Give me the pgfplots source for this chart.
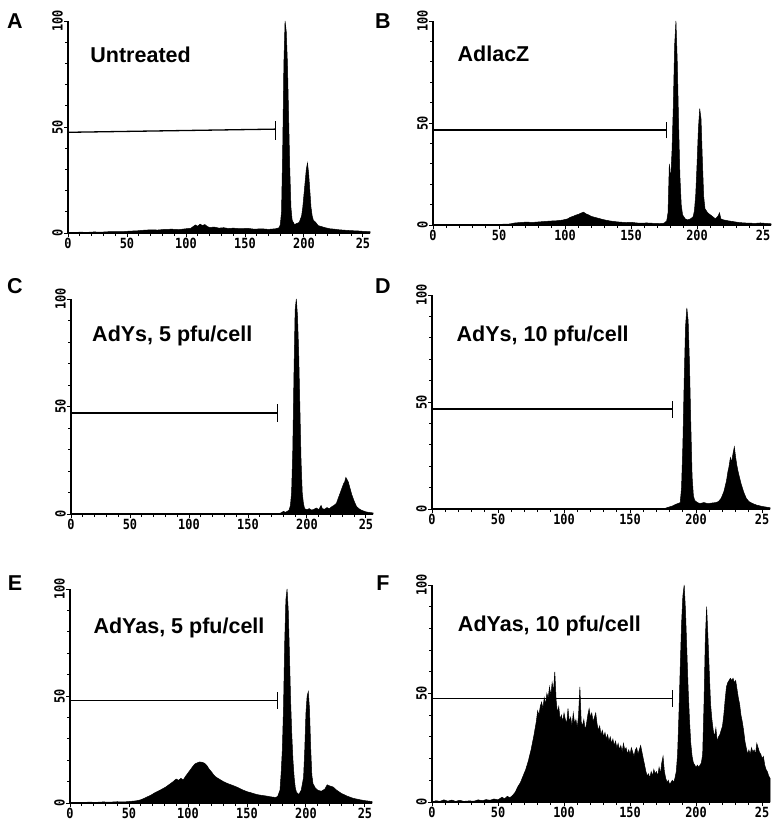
\documentclass[border=0pt]{standalone}
\usepackage{fontspec}
\setmainfont{Liberation Sans}
\newfontfamily\tickfont{DejaVu Sans Mono}[FakeStretch=0.85]
\usepackage{pgfplots}
\pgfplotsset{compat=1.18}

\newcommand\tickfnt{\tickfont\bfseries\fontsize{14}{14}\selectfont}
\newcommand\lblfnt{\bfseries\fontsize{21.5}{22}\selectfont}

\pgfplotsset{
  FC/.style={
    scale only axis, anchor=south west,
    xmin=0, xmax=256, ymin=0, ymax=100,
    axis lines*=left, axis line style={line width=1.2pt},
    clip=false,
    xtick={0,50,100,150,200,250}, xticklabels={0,50,100,150,200,25},
    minor x tick num=4,
    ytick={0,50,100}, yticklabels={0,50,100}, minor y tick num=4,
    tick align=outside, major tick length=4pt, minor tick length=3pt,
    tick style={black, line width=0.9pt},
    ticklabel style={font=\tickfnt, inner sep=1pt},
    yticklabel style={rotate=90, anchor=south},
    xticklabel style={anchor=north},
  },
  H/.style={fill=black, draw=black, line width=0.5pt},
  G/.style={black, line width=1.3pt},
}

\begin{document}
\begin{tikzpicture}
\useasboundingbox (0,0) rectangle (773pt,-827pt);

% ---------- A: Untreated
\begin{axis}[FC, at={(68pt,-233pt)}, width=302pt, height=212pt]
\addplot[H] coordinates {
(0,0)(2,0.3)(6,0.2)(10,0.4)(16,0.3)(22,0.5)(28,0.4)(34,0.6)(40,0.7)(46,0.6)
(52,0.9)(58,1.0)(64,1.3)(70,1.5)(76,1.4)(82,1.7)(88,1.8)(94,1.6)(100,2.0)
(104,2.2)(106,3.0)(108,3.8)(110,3.2)(112,4.2)(114,3.5)(116,4.0)(118,3.1)
(120,2.6)(124,2.8)(128,2.3)(132,2.5)(136,2.1)(140,2.3)(146,2.0)(152,2.2)
(158,1.8)(164,2.0)(170,1.7)(176,2.0)(179,2.5)(180,4)(181,10)(182,40)(183,80)
(184,100)(185,95)(186,80)(187,55)(188,30)(189,12)(190,6)(192,4)(194,4.5)
(196,5)(198,8)(199,12)(200,18)(201,24)(202,30)(203,33)(204,28)(205,20)
(206,12)(207,8)(208,6)(210,5)(212,3.5)(215,3)(218,2.5)(222,2)(226,1.8)
(230,1.5)(235,1.3)(240,1.1)(245,1.0)(250,0.8)(256,0.6)} \closedcycle;
\addplot[G] coordinates {(0,47.5)(176,49)};
\addplot[G] coordinates {(176,44)(176,53)};
\node[anchor=west, font=\lblfnt] at (axis cs:16,84) {Untreated};
\end{axis}
\node[font=\lblfnt] at (15pt,-21pt) {A};

% ---------- B: AdlacZ
\begin{axis}[FC, at={(433pt,-225pt)}, width=338pt, height=204pt]
\addplot[H] coordinates {
(0,0)(10,0.2)(20,0.1)(30,0.3)(40,0.2)(50,0.3)(58,0.5)(62,1.0)(66,1.2)(70,1.4)
(76,1.3)(82,1.6)(88,1.9)(94,2.1)(98,2.4)(102,3.0)(104,3.8)(106,4.2)(108,4.8)
(110,5.2)(112,5.8)(114,6.3)(116,5.4)(118,4.9)(120,4.2)(124,3.5)(128,2.8)
(132,2.2)(136,1.8)(140,1.5)(146,1.2)(150,1.3)(156,0.9)(162,1.0)(168,0.8)
(172,0.7)(175,0.9)(177,2)(178,6)(179,30)(180,22)(181,36)(182,58)(183,88)
(184,100)(185,80)(186,50)(187,24)(188,10)(189,5)(191,3)(193,2.5)(195,3)
(197,4)(198,7)(199,15)(200,30)(201,47)(202,57)(203,52)(204,32)(205,14)
(206,8)(208,6)(210,5)(212,4)(214,3)(216,4.5)(217,6)(218,3)(220,2.5)(224,2)
(228,1.6)(232,1.2)(236,1.0)(240,0.9)(244,0.8)(248,1.0)(252,0.8)(256,0.6)} \closedcycle;
\addplot[G] coordinates {(0,46.5)(177,46.5)};
\addplot[G] coordinates {(177,42.5)(177,50.5)};
\node[anchor=west, font=\lblfnt] at (axis cs:16,84) {AdlacZ};
\end{axis}
\node[font=\lblfnt] at (383pt,-21pt) {B};

% ---------- C: AdYs, 5 pfu/cell
\begin{axis}[FC, at={(71pt,-514pt)}, width=302pt, height=215pt]
\addplot[H] coordinates {
(0,0)(175,0)(178,0.5)(180,1.2)(182,0.8)(184,1.5)(185,2)(186,4)(187,10)
(188,30)(189,65)(190,95)(191,100)(192,92)(193,75)(194,50)(195,25)(196,10)
(197,5)(198,2.5)(200,2)(202,2.5)(204,1.8)(206,2.2)(208,2.8)(210,2.0)(212,4)
(213,2.5)(215,2.2)(217,3)(219,2.4)(221,3.4)(223,4)(225,5)(227,8)(229,11)
(231,14)(232,15)(233,17)(234,16)(235,15)(236,13)(238,9)(240,6)(242,3.5)
(244,2.5)(246,1.8)(248,1.4)(250,1)(252,0.8)(256,0.5)} \closedcycle;
\addplot[G] coordinates {(0,47)(175,47)};
\addplot[G] coordinates {(175,43)(175,51)};
\node[anchor=west, font=\lblfnt] at (axis cs:15,83) {AdYs, 5 pfu/cell};
\end{axis}
\node[font=\lblfnt] at (15pt,-286pt) {C};

% ---------- D: AdYs, 10 pfu/cell
\begin{axis}[FC, at={(432pt,-509pt)}, width=338pt, height=214pt]
\addplot[H] coordinates {
(0,0)(175,0)(178,0.6)(180,1)(182,1.4)(184,2)(186,2.5)(188,3)(189,10)(190,30)
(191,60)(192,85)(193,94)(194,88)(195,68)(196,40)(197,15)(198,6)(199,4)
(201,3)(203,2.6)(206,3)(209,2.5)(212,2.8)(215,3)(217,3.5)(219,5)(221,8)
(223,13)(224,17)(225,20)(226,24)(227,22)(228,26)(229,29)(230,24)(231,20)
(232,17)(234,12)(236,8)(238,5)(240,3.5)(243,2.5)(246,1.8)(250,1.2)(254,0.8)
(256,0.6)} \closedcycle;
\addplot[G] coordinates {(0,46.7)(182,46.7)};
\addplot[G] coordinates {(182,42.7)(182,50.7)};
\node[anchor=west, font=\lblfnt] at (axis cs:16,81) {AdYs, 10 pfu/cell};
\end{axis}
\node[font=\lblfnt] at (383pt,-286pt) {D};

% ---------- E: AdYas, 5 pfu/cell
\begin{axis}[FC, at={(70pt,-803pt)}, width=302pt, height=214pt]
\addplot[H] coordinates {
(0,0)(4,0.3)(10,0.2)(16,0.4)(22,0.3)(28,0.5)(34,0.4)(40,0.6)(46,0.5)(52,0.8)
(56,1.0)(60,1.5)(63,2.2)(66,3.0)(69,3.8)(72,4.8)(75,5.6)(78,6.5)(81,7.4)
(84,8.6)(87,9.8)(90,11.2)(92,10.6)(94,11.5)(96,10.8)(98,12.5)(100,14)
(102,15.5)(104,17)(106,18.3)(108,18.8)(110,19.2)(112,19.0)(114,18.6)
(116,17.5)(118,15.8)(120,14.5)(122,13)(124,12)(127,11)(130,10)(134,9)
(138,8.2)(142,7.3)(146,6.2)(150,5.3)(154,4.7)(158,4.0)(162,3.6)(166,3.3)
(170,2.9)(174,2.6)(176,3)(178,6)(179,14)(180,25)(181,45)(182,75)(183,95)
(184,100)(185,90)(186,70)(187,48)(188,32)(189,20)(190,12)(191,7)(192,5)
(194,4)(196,6)(198,12)(199,25)(200,42)(201,50)(202,52)(203,44)(204,26)
(205,13)(206,9)(208,7)(210,6)(213,5.5)(216,6.5)(218,8.5)(220,8)(223,7.5)
(226,6)(230,4.5)(235,3.2)(240,2.2)(245,1.6)(250,1.1)(256,0.7)} \closedcycle;
\addplot[G] coordinates {(0,48)(176,48)};
\addplot[G] coordinates {(176,44)(176,52)};
\node[anchor=west, font=\lblfnt] at (axis cs:17,82) {AdYas, 5 pfu/cell};
\end{axis}
\node[font=\lblfnt] at (15pt,-583pt) {E};

% ---------- F: AdYas, 10 pfu/cell
\begin{axis}[FC, at={(432pt,-802pt)}, width=338pt, height=217pt]
\addplot[H] coordinates {
(0,0)(3,0.6)(6,0.3)(9,1.0)(12,0.4)(15,0.9)(18,0.3)(21,0.8)(24,0.3)(28,0.5)
(32,0.4)(35,1.0)(38,0.6)(41,1.1)(44,0.8)(47,1.4)(50,1.0)(53,2.2)(55,1.5)
(57,2.6)(59,2.0)(61,3.0)(63,4.5)(65,7)(67,9)(69,12)(71,15)(73,19)(75,24)
(77,30)(79,37)(80,42)(81,40)(82,44)(83,46)(84,43)(85,48)(86,45)(87,50)
(88,48)(89,53)(90,49)(91,55)(92,51)(93,60)(94,47)(95,41)(96,44)(97,38)
(98,40)(99,37)(100,41)(101,38)(102,36)(103,43)(104,37)(105,39)(106,35)
(107,41)(108,36)(109,38)(110,34)(111,40)(112,53)(113,37)(114,35)(115,38)
(116,33)(117,36)(118,40)(119,43)(120,39)(121,41)(122,37)(123,39)(124,41)
(125,36)(126,33)(127,35)(128,31)(129,33)(130,30)(131,32)(132,29)(133,31)
(134,28)(135,30)(136,27)(137,29)(138,26)(139,28)(140,25)(141,27)(142,24)
(143,26)(144,23)(145,27)(146,24)(147,25)(148,22)(149,24)(150,22)(151,25)
(152,23)(153,21)(154,24)(155,25)(156,22)(157,24)(158,26)(159,23)(160,20)
(161,17)(162,14)(163,12)(164,13)(165,11)(166,14)(167,12)(168,15)(169,13)
(170,14)(171,12)(172,16)(173,13)(174,18)(175,21)(176,14)(177,11)(178,9)
(179,10)(180,8)(181,9)(182,10)(183,9)(184,11)(185,14)(186,22)(187,40)
(188,62)(189,82)(190,95)(191,100)(192,88)(193,70)(194,52)(195,38)(196,27)
(197,21)(198,18)(199,17)(200,16)(201,17)(202,16)(203,17)(204,18)(205,22)
(206,45)(207,75)(208,90)(209,76)(210,60)(211,45)(212,38)(213,33)(214,30)
(215,34)(216,28)(217,30)(218,31)(219,33)(220,35)(221,40)(222,47)(223,53)
(224,55)(225,56)(226,57)(227,56)(228,57)(229,55)(230,56)(231,52)(232,48)
(233,45)(234,40)(235,37)(236,33)(237,28)(238,25)(239,22)(240,24)(241,22)
(242,25)(243,23)(244,24)(245,22)(246,27)(247,25)(248,23)(249,22)(250,20)
(251,21)(252,17)(253,15)(254,14)(255,12)(256,11)} \closedcycle;
\addplot[G] coordinates {(0,47.7)(182,47.7)};
\addplot[G] coordinates {(182,43.7)(182,51.7)};
\node[anchor=west, font=\lblfnt] at (axis cs:17,81) {AdYas, 10 pfu/cell};
\end{axis}
\node[font=\lblfnt] at (383pt,-583pt) {F};
\end{tikzpicture}
\end{document}
